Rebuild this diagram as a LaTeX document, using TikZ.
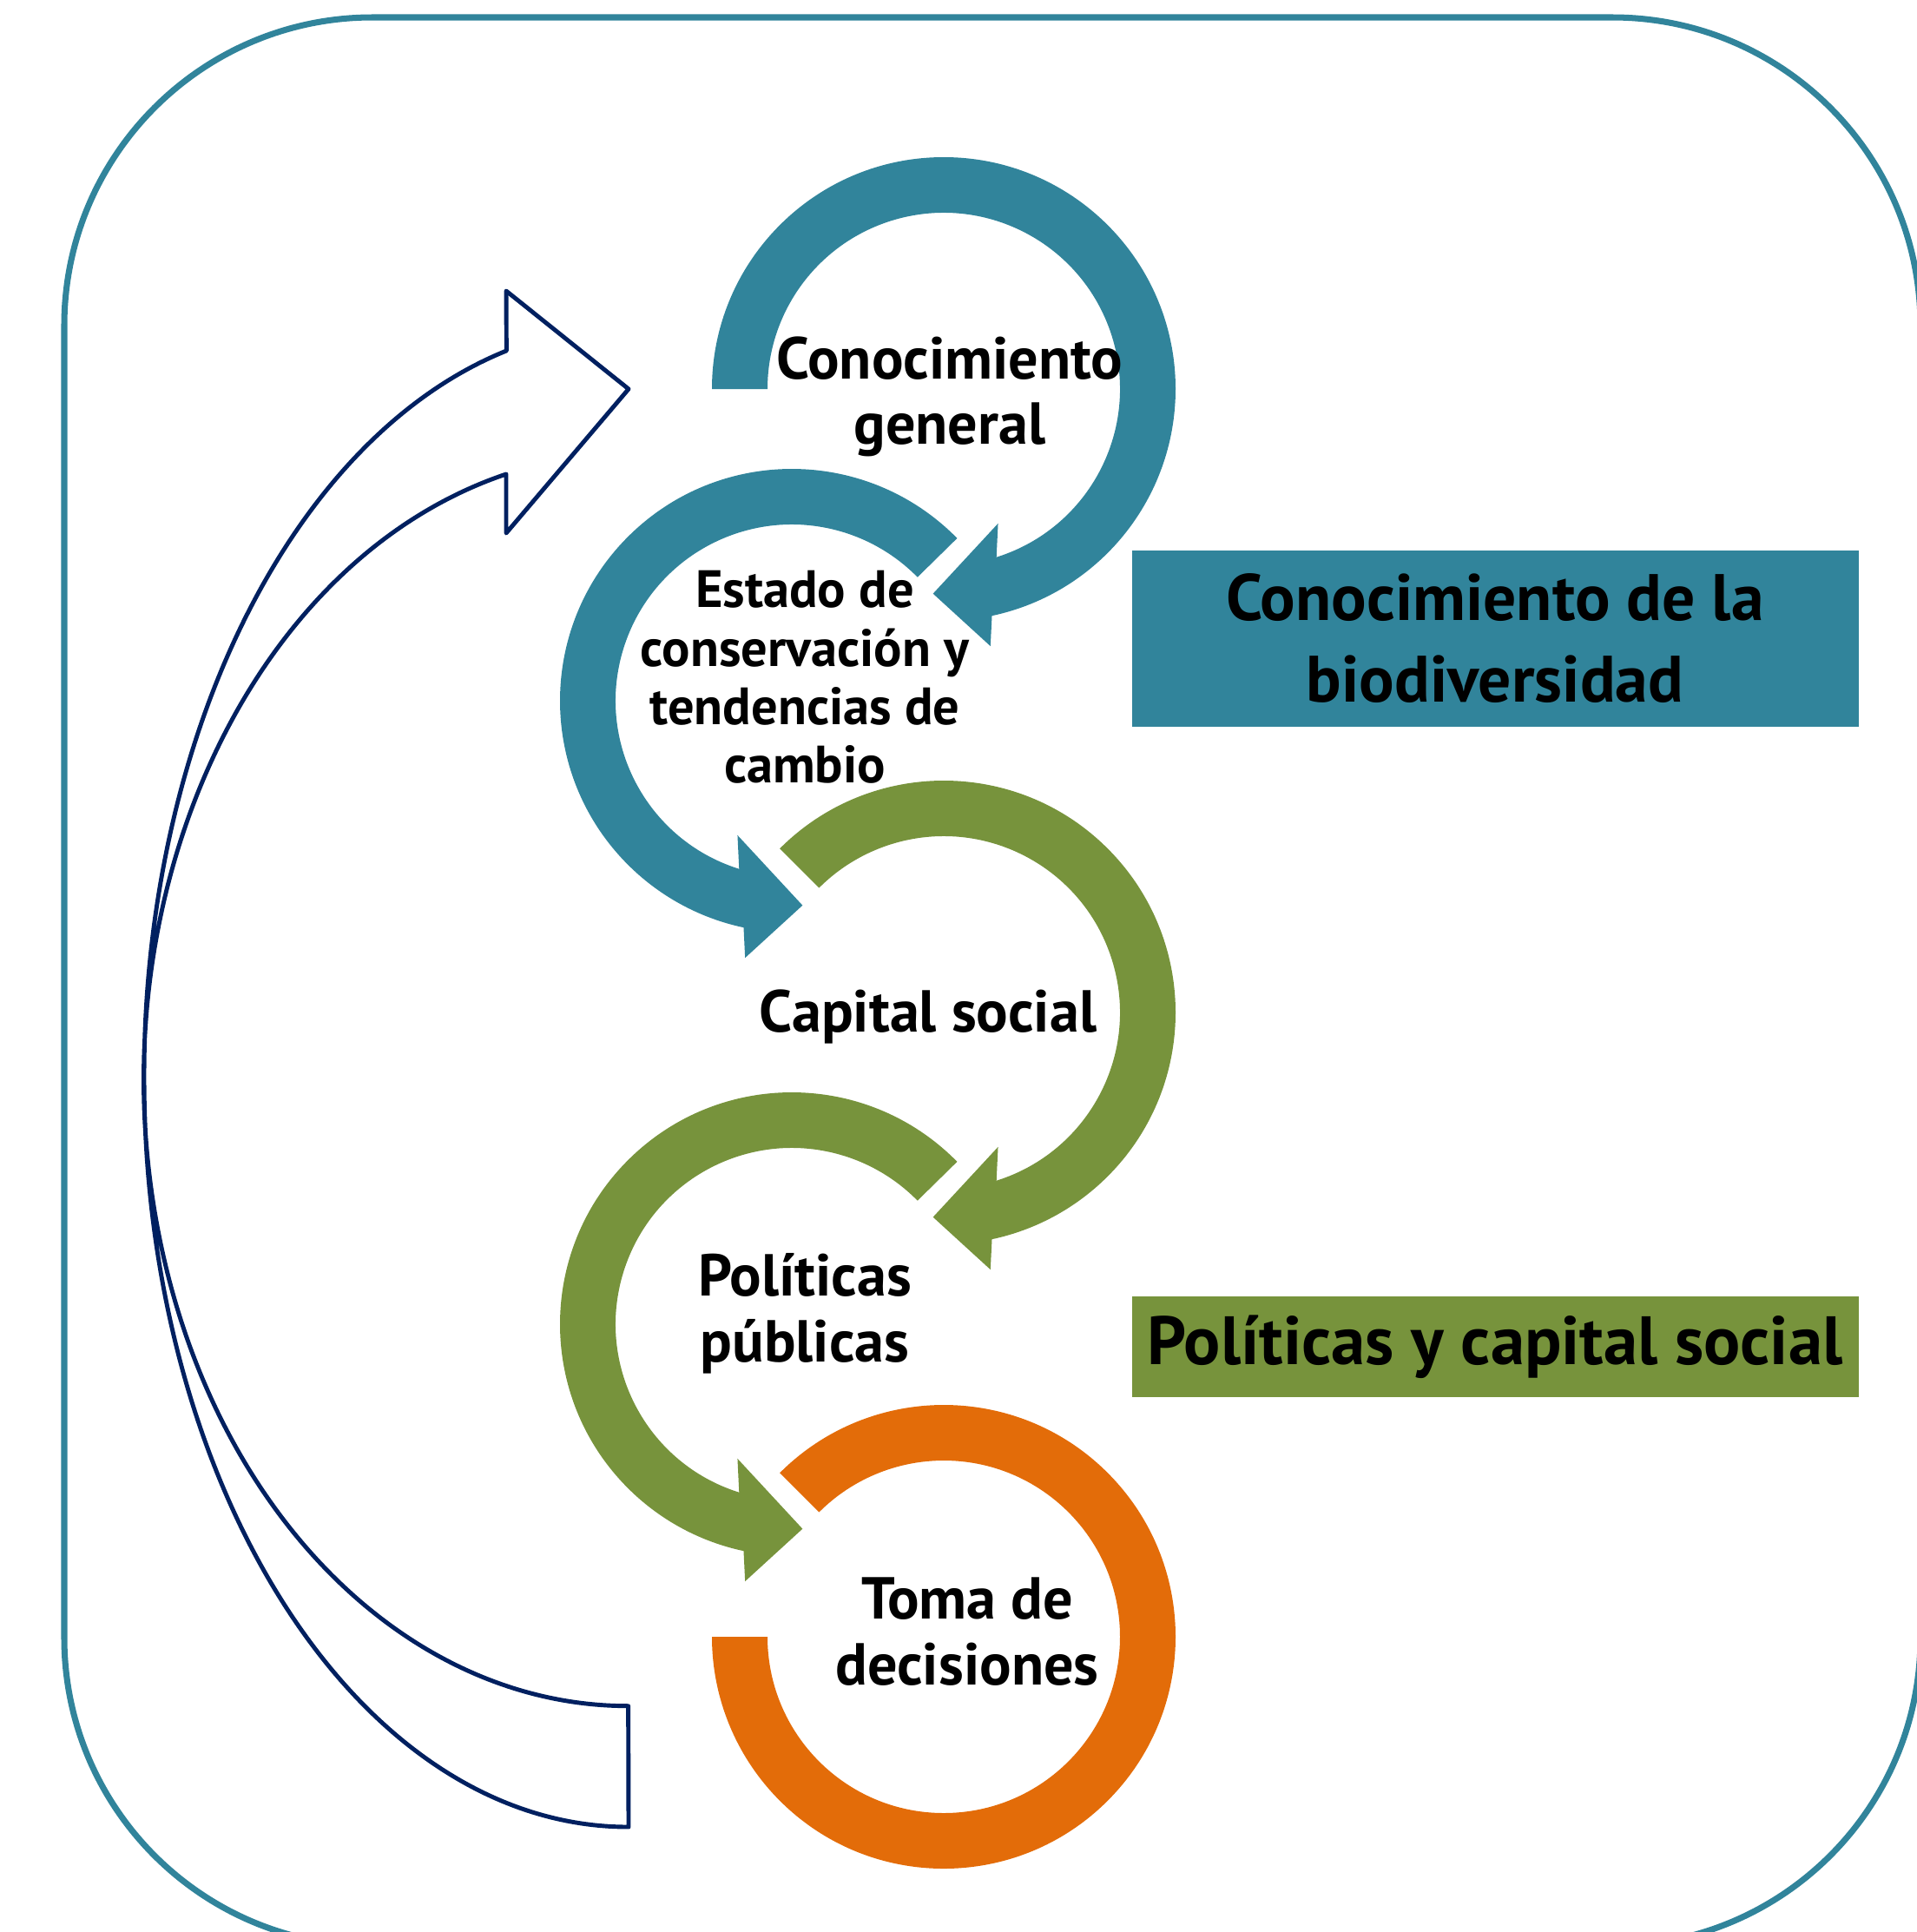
\documentclass[tikz,border=0pt]{standalone}
\usepackage{fontspec}
\setmainfont{PT Sans}
\usepackage{tikz}
\definecolor{azulbio}{RGB}{49,132,155}
\definecolor{verdepol}{RGB}{119,147,60}
\definecolor{naranja}{RGB}{227,108,9}
\definecolor{marino}{RGB}{0,32,96}

\begin{document}
\begin{tikzpicture}[
    etiq/.style={align=center,font=\bfseries\fontsize{19.4}{21.5}\selectfont},
    caja/.style={minimum width=8.37cm,inner sep=0pt,align=center,font=\bfseries\fontsize{21.5}{27}\selectfont}]
    \useasboundingbox (0,0) rectangle (22.08,-22.25);
    % marco
    \draw[azulbio,line width=2pt,rounded corners=3.55cm] (0.74,-0.20) rectangle (22.12,-22.41);
    % flecha de retorno
    \draw[marino,line width=1.4pt,line join=round] (7.24,-21.04) arc[start angle=270,end angle=104.6,x radius=5.58,y radius=8.64]
        -- (5.83,-3.35) -- (7.24,-4.48) -- (5.83,-6.14) -- (5.83,-5.46)
        arc[start angle=104.6,end angle=270,x radius=5.58,y radius=7.21] -- cycle;
    % anillo 1
    \begin{scope}[shift={(10.87,-4.48)}]
        \fill[azulbio] (180:2.67) arc[start angle=180,end angle=-78,radius=2.67] -- (-79.7:3.01) -- (-93:2.36) -- (-68:1.67) -- (-72.6:2.03) arc[start angle=-72.6,end angle=180,radius=2.03] -- cycle;
    \end{scope}
    % anillo 2
    \begin{scope}[shift={(9.12,-8.07)}]
        \fill[azulbio] (44.5:2.67) arc[start angle=44.5,end angle=258,radius=2.67] -- (259.7:3.01) -- (273:2.36) -- (248:1.67) -- (252.6:2.03) arc[start angle=252.6,end angle=44.5,radius=2.03] -- cycle;
    \end{scope}
    % anillo 3
    \begin{scope}[shift={(10.87,-11.66)}]
        \fill[verdepol] (135:2.67) arc[start angle=135,end angle=-78,radius=2.67] -- (-79.7:3.01) -- (-93:2.36) -- (-68:1.67) -- (-72.6:2.03) arc[start angle=-72.6,end angle=135,radius=2.03] -- cycle;
    \end{scope}
    % anillo 4
    \begin{scope}[shift={(9.12,-15.25)}]
        \fill[verdepol] (44.5:2.67) arc[start angle=44.5,end angle=258,radius=2.67] -- (259.7:3.01) -- (273:2.36) -- (248:1.67) -- (252.6:2.03) arc[start angle=252.6,end angle=44.5,radius=2.03] -- cycle;
    \end{scope}
    % anillo 5
    \begin{scope}[shift={(10.87,-18.85)}]
        \fill[naranja] (135:2.67) arc[start angle=135,end angle=-180,radius=2.67] -- (-180:2.03) arc[start angle=-180,end angle=135,radius=2.03] -- cycle;
    \end{scope}
    % textos
    \node[etiq] (conoc) at (10.94,-4.57) {Conocimiento\\general};
    \node[etiq,font=\bfseries\fontsize{17.2}{19.2}\selectfont] (estado) at (9.27,-7.80) {Estado de\\conservación y\\tendencias de\\cambio};
    \node[etiq] (capital) at (10.69,-11.71) {Capital social};
    \node[etiq] (politicas) at (9.27,-15.13) {Políticas\\públicas};
    \node[etiq] (toma) at (11.14,-18.79) {Toma de\\decisiones};
    % cajas
    \node[caja,fill=azulbio,minimum height=2.03cm] (cajabio) at (17.22,-7.35) {Conocimiento de la\\biodiversidad};
    \node[caja,fill=verdepol,minimum height=1.16cm,font=\bfseries\fontsize{22.4}{27}\selectfont] (cajapol) at (17.22,-15.51) {Políticas y capital social};
\end{tikzpicture}
\end{document}
